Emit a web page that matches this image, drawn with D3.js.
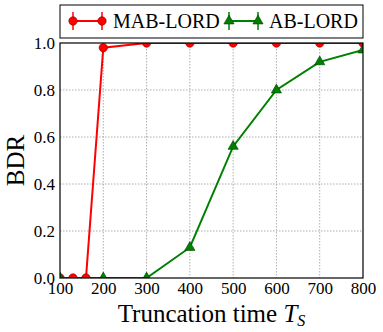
<!DOCTYPE html>
<html>
<head>
<meta charset="utf-8">
<script src="https://cdn.jsdelivr.net/npm/d3@7"></script>
<style>
body { margin: 0; background: #fff; }
</style>
</head>
<body>
<div id="chart"></div>
<script>
// data
var mabTimes = [100, 130, 160, 200, 300, 400, 500, 600, 700, 800];
var mabLord = [0, 0, 0, 0.98, 1.0, 1.0, 1.0, 1.0, 1.0, 1.0];
var abTimes = [100, 200, 300, 400, 500, 600, 700, 800];
var abLord = [0, 0, 0, 0.13, 0.56, 0.80, 0.92, 0.97];
var xTicks = [100, 200, 300, 400, 500, 600, 700, 800];
var yTicks = [0, 0.2, 0.4, 0.6, 0.8, 1.0];
var seriesNames = ["MAB-LORD", "AB-LORD"];

function init(){
	var w = 383, h = 332;
	var left = 60, right = 363, top = 43, bottom = 278;
	var serif = "'Liberation Serif', 'Times New Roman', serif";

	var svg = d3.select("#chart").append("svg")
		.attr("width", w).attr("height", h)
		.attr("font-family", serif);

	var xScale = d3.scaleLinear().domain([100, 800]).range([left, right]);
	var yScale = d3.scaleLinear().domain([0, 1]).range([bottom, top]);

	svg.append("clipPath").attr("id", "plotclip")
		.append("rect").attr("x", left).attr("y", top)
		.attr("width", right - left).attr("height", bottom - top);

	// grid
	svg.append("g").selectAll("line")
		.data(xTicks.slice(1, -1))
		.enter().append("line")
		.attr("x1", function(d){ return xScale(d); })
		.attr("x2", function(d){ return xScale(d); })
		.attr("y1", top).attr("y2", bottom)
		.attr("stroke", "#999").attr("stroke-width", 0.8)
		.attr("stroke-dasharray", "1.5,1.5");
	svg.append("g").selectAll("line")
		.data(yTicks.slice(1, -1))
		.enter().append("line")
		.attr("y1", function(d){ return yScale(d); })
		.attr("y2", function(d){ return yScale(d); })
		.attr("x1", left).attr("x2", right)
		.attr("stroke", "#999").attr("stroke-width", 0.8)
		.attr("stroke-dasharray", "1.5,1.5");

	// axes
	var xAxis = d3.axisBottom(xScale).tickValues(xTicks).tickSize(0).tickPadding(4)
		.tickFormat(d3.format("d"));
	var yAxis = d3.axisLeft(yScale).tickValues(yTicks).tickSize(0).tickPadding(4)
		.tickFormat(d3.format(".1f"));
	var gx = svg.append("g").attr("transform", "translate(0," + bottom + ")").call(xAxis);
	var gy = svg.append("g").attr("transform", "translate(" + left + ",0)").call(yAxis);
	[gx, gy].forEach(function(g){
		g.attr("font-family", serif).attr("font-size", 17);
		g.select(".domain").remove();
		g.selectAll("line").remove();
		g.selectAll("text").attr("fill", "#000");
	});
	gy.selectAll("text").attr("dx", "-1");

	// series, clipped to the plot area
	var line = d3.line()
		.x(function(d){ return xScale(d[0]); })
		.y(function(d){ return yScale(d[1]); });
	var green = "#008000", red = "#ff0000";
	var abPts = d3.zip(abTimes, abLord);
	var mabPts = d3.zip(mabTimes, mabLord);
	var tri = d3.symbol().type(d3.symbolTriangle).size(45);
	var plot = svg.append("g").attr("clip-path", "url(#plotclip)");

	plot.append("path").datum(mabPts).attr("d", line)
		.attr("fill", "none").attr("stroke", red).attr("stroke-width", 2);
	plot.selectAll("circle").data(mabPts).enter().append("circle")
		.attr("cx", function(d){ return xScale(d[0]); })
		.attr("cy", function(d){ return yScale(d[1]); })
		.attr("r", 4.2)
		.attr("fill", red).attr("stroke", "#800000").attr("stroke-width", 0.6);

	plot.append("path").datum(abPts).attr("d", line)
		.attr("fill", "none").attr("stroke", green).attr("stroke-width", 2);
	plot.selectAll("path.tri").data(abPts).enter().append("path")
		.attr("class", "tri")
		.attr("d", tri)
		.attr("transform", function(d){ return "translate(" + xScale(d[0]) + "," + yScale(d[1]) + ")"; })
		.attr("fill", green).attr("stroke", "#004000").attr("stroke-width", 0.6);

	// frame
	svg.append("rect").attr("x", left).attr("y", top)
		.attr("width", right - left).attr("height", bottom - top)
		.attr("fill", "none").attr("stroke", "#000").attr("stroke-width", 1.2);

	// legend
	svg.append("rect").attr("x", left).attr("y", 5)
		.attr("width", right - left).attr("height", 33)
		.attr("fill", "#fff").attr("stroke", "#000").attr("stroke-width", 1);
	var legColors = [red, green];
	var legX = [73, 229];
	seriesNames.forEach(function(name, i){
		var x0 = legX[i], y0 = 21, c = legColors[i];
		var lg = svg.append("g");
		lg.append("line").attr("x1", x0).attr("x2", x0 + 29).attr("y1", y0).attr("y2", y0)
			.attr("stroke", c).attr("stroke-width", 2);
		[x0, x0 + 29].forEach(function(xx){
			lg.append("line").attr("x1", xx).attr("x2", xx).attr("y1", y0 - 9).attr("y2", y0 + 9)
				.attr("stroke", c).attr("stroke-width", 1.5);
			if (i === 0) {
				lg.append("circle").attr("cx", xx).attr("cy", y0).attr("r", 4.2)
					.attr("fill", c).attr("stroke", "#800000").attr("stroke-width", 0.6);
			} else {
				lg.append("path").attr("d", tri)
					.attr("transform", "translate(" + xx + "," + y0 + ")")
					.attr("fill", c).attr("stroke", "#004000").attr("stroke-width", 0.6);
			}
		});
		lg.append("text").attr("x", x0 + 40).attr("y", y0 + 7)
			.attr("font-size", 20).text(name);
	});

	// axis labels
	svg.append("text").attr("transform", "translate(24," + ((top + bottom) / 2) + ") rotate(-90)")
		.attr("text-anchor", "middle").attr("font-size", 25).text("BDR");
	var xl = svg.append("text").attr("x", (left + right) / 2).attr("y", 322)
		.attr("text-anchor", "middle").attr("font-size", 25);
	xl.append("tspan").text("Truncation time ");
	xl.append("tspan").attr("font-style", "italic").text("T");
	xl.append("tspan").attr("font-style", "italic").attr("font-size", 16).attr("dy", 4).text("S");
}
window.onload = init;
</script>
</body>
</html>
